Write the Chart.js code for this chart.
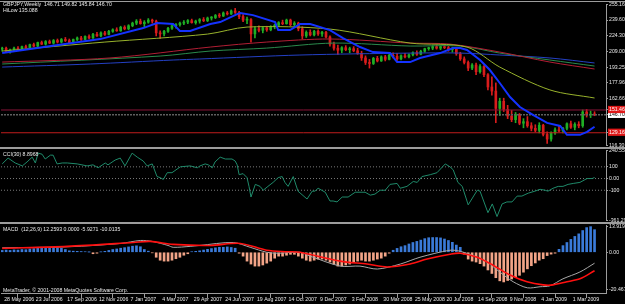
<!DOCTYPE html>
<html>
<head>
<meta charset="utf-8">
<script src="https://cdn.jsdelivr.net/npm/chart.js@4"></script>
<style>
body { margin: 0; background: #000; width: 625px; height: 304px; overflow: hidden; position: relative; font-family: "Liberation Sans", Arial, sans-serif; }
canvas { position: absolute; left: 0; }
.sep { position: absolute; left: 0; width: 625px; background: #9c9c9c; z-index: 2; }
.txt { position: absolute; left: 3px; color: #e8e8e8; font-size: 5.2px; line-height: 5px; white-space: pre; z-index: 3; }
</style>
</head>
<body>
<canvas id="price" width="625" height="150" style="top:0"></canvas>
<canvas id="cci" width="625" height="81" style="top:145px"></canvas>
<canvas id="macd" width="625" height="85" style="top:219px"></canvas>
<div class="sep" style="top:1px;height:1px"></div>
<div class="sep" style="top:147px;height:2px"></div>
<div class="sep" style="top:222px;height:2px"></div>
<div class="txt" style="top:1.5px">GBPJPY,Weekly  146.71 149.82 145.84 146.70</div>
<div class="txt" style="top:7.5px">HiLow 135.088</div>
<div class="txt" style="top:151.5px">CCI(30) 8.8968</div>
<div class="txt" style="top:226.5px">MACD  (12,26,9) 12.2593 0.0000 -5.9271 -10.0135</div>
<div class="txt" style="top:287.5px">MetaTrader, © 2001-2008 MetaQuotes Software Corp.</div>
<script>
// weekly bars, index 0 = week of 28 May 2006
const openP = [
  211.0,212.0,208.5,210.5,212.0,211.0,213.5,212.5,215.5,214.0,
  217.5,216.0,218.5,217.0,219.5,218.0,220.5,219.5,217.5,220.5,
  222.0,220.5,223.5,222.0,225.5,224.0,227.0,225.5,228.5,230.0,
  229.0,232.5,231.0,234.0,236.5,238.5,236.0,237.5,239.5,238.5,
  227.0,226.0,228.5,231.5,234.0,235.0,236.5,237.5,239.0,237.0,
  238.5,240.0,239.0,241.5,242.0,244.0,243.5,246.5,245.5,248.5,
  247.0,243.0,239.5,240.0,226.0,231.0,229.5,232.0,230.0,233.0,
  234.5,237.0,236.0,239.5,235.0,236.5,231.0,224.0,227.5,225.0,
  228.5,226.0,227.5,223.0,216.0,212.0,210.0,212.5,210.5,211.5,
  209.5,207.0,202.5,198.0,197.0,202.0,199.5,203.5,201.0,205.0,
  204.0,201.5,204.5,203.5,205.5,207.5,206.0,209.0,211.5,212.0,
  213.5,212.0,213.5,212.5,210.5,211.5,206.5,201.5,198.0,192.5,
  195.5,189.0,194.0,186.0,174.0,170.0,153.0,160.0,152.0,145.5,
  142.0,147.0,138.5,140.0,136.0,133.5,131.5,136.5,127.5,123.0,
  129.0,132.0,131.0,133.5,138.0,134.5,137.5,136.0,149.5,146.5,
  146.71
];
const highP = [
  213.0,213.0,211.0,213.0,213.5,214.0,215.0,216.0,217.0,218.0,
  219.0,219.5,220.0,220.5,221.0,221.5,222.5,221.0,221.0,223.0,
  223.5,224.0,225.0,226.5,227.5,228.0,228.5,229.5,231.0,232.0,
  233.5,234.0,235.0,237.5,240.0,240.5,239.0,241.0,240.5,239.5,
  229.0,229.5,232.5,235.0,236.0,237.5,239.0,240.0,240.5,239.5,
  241.0,242.0,242.5,243.0,245.0,246.0,247.5,248.0,249.5,251.0,
  248.0,245.0,242.5,241.0,233.0,234.0,233.0,233.5,234.0,235.5,
  238.0,239.5,240.5,240.5,238.0,237.5,233.0,229.0,230.0,229.5,
  230.0,228.5,228.5,224.0,218.0,215.0,213.5,214.5,213.0,213.5,
  212.0,209.0,204.5,201.0,203.0,204.0,204.5,205.0,206.0,207.5,
  207.0,205.5,207.0,206.5,208.5,209.5,210.0,212.0,213.0,214.5,
  215.0,214.0,215.0,214.0,213.0,212.0,208.0,203.5,199.5,197.0,
  197.5,196.0,195.0,187.0,184.0,178.0,163.0,163.0,156.0,151.0,
  149.0,148.0,143.0,145.0,139.0,137.0,139.0,137.5,130.0,130.0,
  134.0,136.0,134.5,139.0,140.5,139.0,140.0,151.5,152.0,150.5,
  149.82
];
const lowP = [
  209.0,207.5,207.0,209.5,210.0,210.0,212.0,212.0,213.5,213.5,
  215.5,215.0,216.5,216.0,217.0,217.0,218.5,216.5,217.0,219.5,
  219.5,220.0,221.0,221.5,223.5,223.0,224.5,225.0,227.5,228.5,
  228.5,230.0,230.0,233.0,235.0,235.5,233.0,236.5,236.5,224.0,
  221.5,224.0,227.5,230.5,231.5,233.5,235.0,236.0,236.5,235.5,
  236.5,238.0,238.0,239.5,241.0,242.0,243.0,244.5,245.0,246.0,
  241.0,238.0,236.0,218.0,222.0,228.0,227.0,228.5,229.0,231.0,
  233.5,235.0,235.5,234.0,233.0,229.0,221.0,222.5,224.0,224.0,
  224.5,223.5,222.0,214.0,210.0,206.0,207.5,209.5,207.5,208.5,
  206.0,200.0,196.0,192.5,196.0,198.5,199.0,199.5,200.5,202.5,
  200.0,200.5,202.5,202.5,204.5,205.0,205.5,208.0,210.0,210.5,
  211.0,210.5,211.5,209.0,208.0,205.0,200.0,196.5,190.0,191.0,
  186.0,187.5,184.0,171.0,166.0,139.0,146.0,150.0,143.0,140.0,
  139.0,137.0,134.0,134.5,131.0,130.0,129.0,126.0,118.8,121.0,
  127.5,130.0,129.0,132.0,133.5,132.0,134.0,134.5,144.5,144.0,
  145.84
];
const closeP = [
  212.0,208.5,210.5,212.0,211.0,213.5,212.5,215.5,214.0,217.5,
  216.0,218.5,217.0,219.5,218.0,220.5,219.5,217.5,220.5,222.0,
  220.5,223.5,222.0,225.5,224.0,227.0,225.5,228.5,230.0,229.0,
  232.5,231.0,234.0,236.5,238.5,236.0,237.5,239.5,238.5,227.0,
  226.0,228.5,231.5,234.0,235.0,236.5,237.5,239.0,237.0,238.5,
  240.0,239.0,241.5,242.0,244.0,243.5,246.5,245.5,248.5,247.0,
  243.0,239.5,240.0,226.0,231.0,229.5,232.0,230.0,233.0,234.5,
  237.0,236.0,239.5,235.0,236.5,231.0,224.0,227.5,225.0,228.5,
  226.0,227.5,223.0,216.0,212.0,210.0,212.5,210.5,211.5,209.5,
  207.0,202.5,198.0,197.0,202.0,199.5,203.5,201.0,205.0,204.0,
  201.5,204.5,203.5,205.5,207.5,206.0,209.0,211.5,212.0,213.5,
  212.0,213.5,212.5,210.5,211.5,206.5,201.5,198.0,192.5,195.5,
  189.0,194.0,186.0,174.0,170.0,153.0,160.0,152.0,145.5,142.0,
  147.0,138.5,140.0,136.0,133.5,131.5,136.5,127.5,123.0,129.0,
  132.0,131.0,133.5,138.0,134.5,137.5,136.0,149.5,146.5,146.7,
  146.70
];

// HiLow line (thick blue), read at these week positions
const hiLowWeek = [0,24.8,35.7,39.2,43.3,45,47.6,52.7,55.2,59.5,60.3,63.5,69.1,69.9,72.9,75.4,78,83,86.3,90.6,93.9,98.2,100,103.3,105.8,110.9,114.2,116,117.7,121,123.5,126,128.6,131.1,134.4,138,141.3,143,146.3,148.1,150];
const hiLowVal = [207.2,220.9,231.7,236.6,235.6,228.8,228.8,235.6,237.6,245.4,246.4,244.4,237.6,229.7,229.7,235.6,235.6,229.7,221.9,213.1,208.2,207.2,198.4,198.4,202.4,207.2,212.1,212.1,210.2,200.4,190.6,177.9,164.2,154.4,146.6,138.8,135.8,127.1,127.1,130.0,135.09];

// moving averages (thin lines)
const maYellowWeek = [0,26,52,62,83,103.3,117.7,126,138.7,150];
const maYellowVal = [209.2,218.0,225.8,232.7,230.7,217.0,213.1,193.5,171.1,163.2];
const maRedWeek = [0,27.3,52.7,67,83,103.3,113.4,126,138.7,150];
const maRedVal = [198.4,202.4,213.1,218.0,221.0,217.0,216.0,208.2,198.4,191.6];
const maGreenWeek = [0,40,52.7,67,83.8,103.3,116,126,138.7,150];
const maGreenVal = [196.5,204.3,209.2,212.1,217.0,214.1,214.1,207.2,200.4,194.5];
const maNavyWeek = [0,22.3,43.3,50,75.4,103.3,116,126,138.7,150];
const maNavyVal = [193.5,196.5,200.4,201.4,205.3,207.2,207.2,205.3,202.4,197.5];

const levelValues = [151.46, 146.70, 129.16];

const priceTicks = [255.16, 239.60, 224.30, 209.00, 193.25, 177.96, 162.66, 151.46, 146.70, 129.16, 116.30];
const priceTickText = ["255.16","239.60","224.30","209.00","193.25","177.96","162.66","151.46","146.70","129.16","116.30"];

// CCI(30)
const cciWeek = [0,1.5,3.3,5.1,6.3,7.6,8.4,9.1,10.1,10.9,12.2,12.9,13.9,15.2,16.5,19,21.5,23,24.3,26.1,26.8,28.6,29.9,31.1,32.9,34.2,35.7,36.7,38,39.2,40,40.8,41.8,43,45.1,47.6,49.4,50.1,51.4,52.2,53.2,53.9,55.2,56.5,58.2,59,59.5,60,61,62,62.5,63,64.1,65.3,66.1,67.3,68.6,69.9,70.9,71.6,72.4,73.7,74.9,77.2,78.5,79.2,80,81.8,83,83.8,84.8,86.1,87.6,89.4,91.1,91.9,93.2,94.4,95.7,97,98.2,100,100.8,102.5,104.1,105.1,106.3,108.4,110.1,112.2,113.4,114.2,115.4,116.5,118,120.3,121,123,124.1,125.3,126.6,127.8,129.1,130.4,131.6,133.2,134.9,136.2,137.5,138.2,139.5,140.8,142,143.3,144.6,146.3,148.1,149.4,150];
const cciVal = [125,175,133,108,142,183,133,217,208,167,200,200,125,133,133,125,108,117,92,133,117,158,175,108,217,183,150,108,125,17,8,-8,50,50,100,108,92,108,125,117,92,142,183,167,167,150,117,33,42,8,-67,-158,-50,-67,-100,-67,-33,8,17,-33,-67,17,-108,-175,-108,-108,-83,-117,-192,-192,-200,-158,-158,-117,-117,-117,-142,-133,-100,-100,-50,-42,-83,-67,-25,-33,17,33,50,125,100,75,-33,-67,-225,-100,-108,-292,-217,-325,-217,-200,-200,-150,-150,-125,-108,-92,-100,-108,-83,-67,-67,-50,-42,-33,0,0,8.9];
const cciLevels = [100, 0, -100];
const cciTicks = [240.553, 100, 0, -100, -361.296];
const cciTickText = ["240.553","100","0.00","-100","-361.296"];

// MACD(12,26,9)
const macdHist = [
  1.0,1.2,1.0,1.3,1.2,1.5,1.4,1.8,2.0,2.4,
  2.2,2.6,2.5,2.7,2.4,2.2,1.5,0.8,0.6,0.5,
  0.4,0.3,0.1,-0.8,-0.5,0.2,0.5,1.0,1.5,1.8,
  2.2,2.5,2.9,3.3,3.5,3.0,1.5,0.6,-0.3,-2.7,
  -4.3,-4.8,-4.8,-4.3,-3.5,-2.7,-1.6,-0.8,0.3,0.5,
  0.8,1.2,1.6,2.0,2.4,2.7,2.7,2.9,2.6,2.2,
  -0.5,-2.1,-4.8,-6.4,-7.5,-7.5,-6.9,-5.9,-4.8,-3.2,
  -2.1,-2.1,-1.6,-1.1,-1.1,-2.1,-3.2,-4.3,-4.8,-4.3,
  -3.7,-3.7,-4.3,-5.3,-6.4,-7.5,-7.5,-6.9,-6.4,-5.3,
  -4.8,-4.3,-4.8,-4.8,-4.3,-3.7,-3.2,-2.1,-0.5,1.1,
  2.1,3.0,3.6,4.5,5.3,5.9,6.6,7.4,7.9,8.0,
  8.0,7.8,7.2,6.4,5.4,3.9,2.7,-1.0,-3.7,-4.8,
  -5.3,-6.2,-7.5,-9.6,-11.5,-13.8,-15.5,-16.1,-15.3,-14.5,
  -13.6,-12.5,-10.8,-9.0,-7.3,-5.8,-4.3,-3.5,-1.8,-1.0,
  -0.5,1.6,3.6,5.3,7.0,8.6,10.0,11.8,13.4,13.9,
  12.26
];
const macdGreyWeek = [0,17,30,35,38,42,43.3,47.6,50,58.5,62.8,67,70,75.4,78,85.6,90.6,95,100.8,105.8,113.4,116,120.3,122.8,126,129.4,133,136.2,138.7,142,146.3,150];
const macdGreyVal = [2.4,3.0,4.8,6.4,5.9,3.7,2.7,3.2,3.7,5.3,2.7,0,-0.5,0,-2.1,-7.5,-7.5,-9.1,-6.4,-2.7,1.1,0.5,-2.7,-5.3,-10.7,-16.0,-19.3,-18.7,-18.2,-14.4,-10.7,-5.93];
const macdRedWeek = [0,16.5,33.2,37.5,43.3,52.7,60.3,67,72.2,75.4,85.6,92.4,97.5,103.3,107.6,113.4,116,120.3,124.3,128.6,132.9,137,139.5,143,146.3,150];
const macdRedVal = [2.1,3.2,5.3,5.9,4.3,3.7,4.8,1.1,0.3,0,-4.8,-6.4,-8.0,-6.4,-3.7,-1.1,-0.5,-2.7,-7.0,-12.3,-16.0,-17.7,-17.7,-16.0,-14.4,-10.01];
const macdTicks = [13.9197, 0, -20.4674];
const macdTickText = ["13.9197","0.00","-20.4674"];

const dateWeeks = [0,8,16,24,32,40,48,56,64,72,80,88,96,104,112,120,128,136,144];
const dateLabels = ["28 May 2006","23 Jul 2006","17 Sep 2006","12 Nov 2006","7 Jan 2007","4 Mar 2007","29 Apr 2007","24 Jun 2007","19 Aug 2007","14 Oct 2007","9 Dec 2007","3 Feb 2008","30 Mar 2008","25 May 2008","20 Jul 2008","14 Sep 2008","9 Nov 2008","4 Jan 2009","1 Mar 2009"];

const xMin = -0.3, xMax = 152.9;
const frame = "#9c9c9c", text = "#e8e8e8";
Chart.defaults.font.family = '"Liberation Sans", Arial, sans-serif';
Chart.defaults.font.size = 5.2;

function pts(xs, ys) { return xs.map((x, i) => ({ x: x, y: ys[i] })); }
function flat(v) { return [{ x: xMin, y: v }, { x: xMax, y: v }]; }

function rightAxis(min, max, values, texts, marks) {
    return {
        type: "linear", position: "right", min: min, max: max, offset: false,
        afterBuildTicks: s => { s.ticks = values.slice().sort((a, b) => a - b).map(v => ({ value: v })); },
        afterFit: s => { s.width = 19; },
        grid: { drawOnChartArea: false, drawTicks: true, tickLength: 2, color: frame },
        border: { display: true, color: frame, width: 1 },
        ticks: {
            autoSkip: false, padding: 1, font: { size: 5.2 },
            callback: v => texts[values.indexOf(v)],
            color: c => (marks && marks[c.tick.value]) ? marks[c.tick.value].fg : text,
            showLabelBackdrop: c => !!(marks && marks[c.tick.value]),
            backdropColor: c => (marks && marks[c.tick.value]) ? marks[c.tick.value].bg : "rgba(0,0,0,0)",
            backdropPadding: { top: 1, bottom: 0, left: 1, right: 4 }
        }
    };
}

function hiddenX() {
    return { type: "linear", min: xMin, max: xMax, display: false, offset: false };
}

const common = {
    responsive: false, animation: false, events: [],
    plugins: { legend: { display: false }, tooltip: { enabled: false } }
};

function line(data, color, width, order, extra) {
    return Object.assign({ type: "line", data: data, borderColor: color, borderWidth: width,
        pointRadius: 0, fill: false, tension: 0.3, order: order }, extra || {});
}

// price pane
const upColor = "#1fae24", downColor = "#d81c1c";
const barColors = closeP.map((c, i) => c >= openP[i] ? upColor : downColor);

new Chart(document.getElementById("price"), {
    type: "bar",
    data: {
        datasets: [
            line(pts(hiLowWeek, hiLowVal), "#1432ff", 2, 1, { tension: 0 }),
            line(flat(levelValues[0]), "#8a1438", 1, 2, { tension: 0 }),
            line(flat(levelValues[1]), "#5e5e5e", 1.5, 2, { tension: 0, borderDash: [2, 1] }),
            line(flat(levelValues[2]), "#c01c1c", 1, 2, { tension: 0 }),
            line(pts(maYellowWeek, maYellowVal), "#98b22c", 1, 3),
            line(pts(maRedWeek, maRedVal), "#b21e34", 1, 3),
            line(pts(maGreenWeek, maGreenVal), "#2a8a4c", 1, 3),
            line(pts(maNavyWeek, maNavyVal), "#2440c4", 1, 3),
            {
                type: "bar", order: 5, grouped: false, barThickness: 2, minBarLength: 1,
                data: closeP.map((c, i) => ({ x: i, y: [openP[i], c] })),
                backgroundColor: barColors
            },
            {
                type: "bar", order: 6, grouped: false, barThickness: 1,
                data: highP.map((h, i) => ({ x: i, y: [lowP[i], h] })),
                backgroundColor: barColors
            }
        ]
    },
    options: Object.assign({}, common, {
        layout: { padding: { left: 1, top: 4, bottom: 4, right: 0 } },
        scales: {
            x: hiddenX(),
            y: rightAxis(116.30, 255.16, priceTicks, priceTickText, {
                151.46: { bg: "#e01818", fg: "#ffffff" },
                146.7: { bg: "#ffffff", fg: "#000000" },
                129.16: { bg: "#e01818", fg: "#ffffff" }
            })
        }
    })
});

// CCI pane
new Chart(document.getElementById("cci"), {
    type: "line",
    data: {
        datasets: [
            line(pts(cciWeek, cciVal), "#1f8a6a", 1, 1, { tension: 0 }),
            line(flat(cciLevels[0]), "#7a7a7a", 1, 2, { tension: 0, borderDash: [1, 2] }),
            line(flat(cciLevels[1]), "#7a7a7a", 1, 2, { tension: 0, borderDash: [1, 2] }),
            line(flat(cciLevels[2]), "#7a7a7a", 1, 2, { tension: 0, borderDash: [1, 2] })
        ]
    },
    options: Object.assign({}, common, {
        layout: { padding: { left: 1, top: 5.4, bottom: 5.2, right: 0 } },
        scales: {
            x: hiddenX(),
            y: rightAxis(-361.296, 240.553, cciTicks, cciTickText)
        }
    })
});

// MACD pane with the date axis
new Chart(document.getElementById("macd"), {
    type: "bar",
    data: {
        datasets: [
            line(pts(macdRedWeek, macdRedVal), "#ff1010", 1.6, 1),
            line(pts(macdGreyWeek, macdGreyVal), "#a8a8a8", 1, 2),
            {
                type: "bar", order: 5, grouped: false, barThickness: 2,
                data: macdHist.map((v, i) => ({ x: i, y: v })),
                backgroundColor: macdHist.map(v => v >= 0 ? "#3a7ad8" : "#f2a487")
            }
        ]
    },
    options: Object.assign({}, common, {
        layout: { padding: { left: 1, top: 6, bottom: 0, right: 0 } },
        scales: {
            x: {
                type: "linear", min: xMin, max: xMax, offset: false, position: "bottom",
                afterBuildTicks: s => { s.ticks = dateWeeks.map(v => ({ value: v })); },
                afterFit: s => { s.height = 11; },
                grid: { drawOnChartArea: false, drawTicks: true, tickLength: 5, color: frame },
                border: { display: true, color: frame, width: 1 },
                ticks: {
                    autoSkip: false, maxRotation: 0, align: "start", labelOffset: 2, padding: -2,
                    color: text, font: { size: 5.2 },
                    callback: v => dateLabels[dateWeeks.indexOf(v)]
                }
            },
            y: rightAxis(-22.1, 14.8, macdTicks, macdTickText)
        }
    })
});
</script>
</body>
</html>
